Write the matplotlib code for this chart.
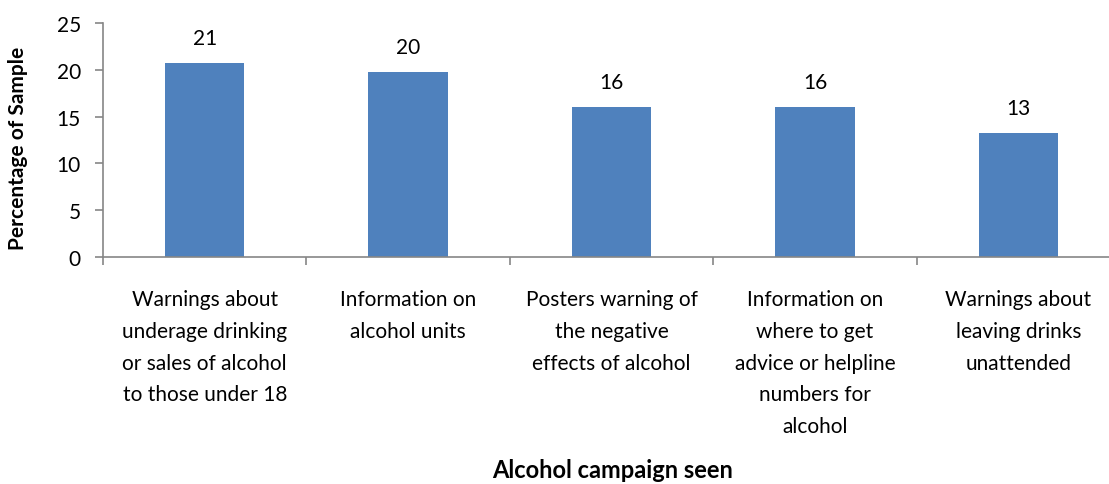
import matplotlib
matplotlib.use("Agg")
import matplotlib.pyplot as plt
import numpy as np

categories = [
    "Warnings about\nunderage drinking\nor sales of alcohol\nto those under 18",
    "Information on\nalcohol units",
    "Posters warning of\nthe negative\neffects of alcohol",
    "Information on\nwhere to get\nadvice or helpline\nnumbers for\nalcohol",
    "Warnings about\nleaving drinks\nunattended",
]
values = [20.7, 19.8, 16.0, 16.0, 13.2]
y_ticks = [0, 5, 10, 15, 20, 25]

plt.rcParams["font.family"] = ["Lato", "DejaVu Sans"]

W, H = 1109, 485
FS = 15
fig = plt.figure(figsize=(W / 100, H / 100), dpi=100)
ax = fig.add_axes([103 / W, (H - 258) / H, 1017 / W, 234 / H])

x = np.arange(len(categories))
ax.bar(x, values, width=0.39, color="#4F81BD", zorder=2)
for xi, v in zip(x, values):
    ax.text(xi, v + 1.6, f"{v:.0f}", ha="center", va="bottom", fontsize=FS)

ax.set_xlim(-0.5, len(categories) - 0.5)
ax.set_ylim(0, 25)
ax.set_yticks(y_ticks)
ax.set_yticklabels([str(t) for t in y_ticks], fontsize=FS)

ax.set_xticks(x)
ax.set_xticklabels(categories, fontsize=FS, linespacing=1.74, va="top")
ax.tick_params(axis="x", which="major", length=0, pad=23)
ax.set_xticks(np.arange(-0.5, len(categories)), minor=True)
ax.tick_params(axis="x", which="minor", length=6, color="#868686", width=1.2)
ax.tick_params(axis="y", length=6, color="#868686", width=1.2, pad=10)

for side in ("top", "right"):
    ax.spines[side].set_visible(False)
for side in ("left", "bottom"):
    ax.spines[side].set_color("#868686")
    ax.spines[side].set_linewidth(1.2)

fig.text(18 / W, 1 - 148 / H, "Percentage of Sample", rotation=90, ha="center",
         va="center", fontsize=FS, fontweight="bold")
fig.text(613 / W, 1 - 471 / H, "Alcohol campaign seen", ha="center", va="center",
         fontsize=17, fontweight="bold")

fig.savefig("out.png", dpi=100)
